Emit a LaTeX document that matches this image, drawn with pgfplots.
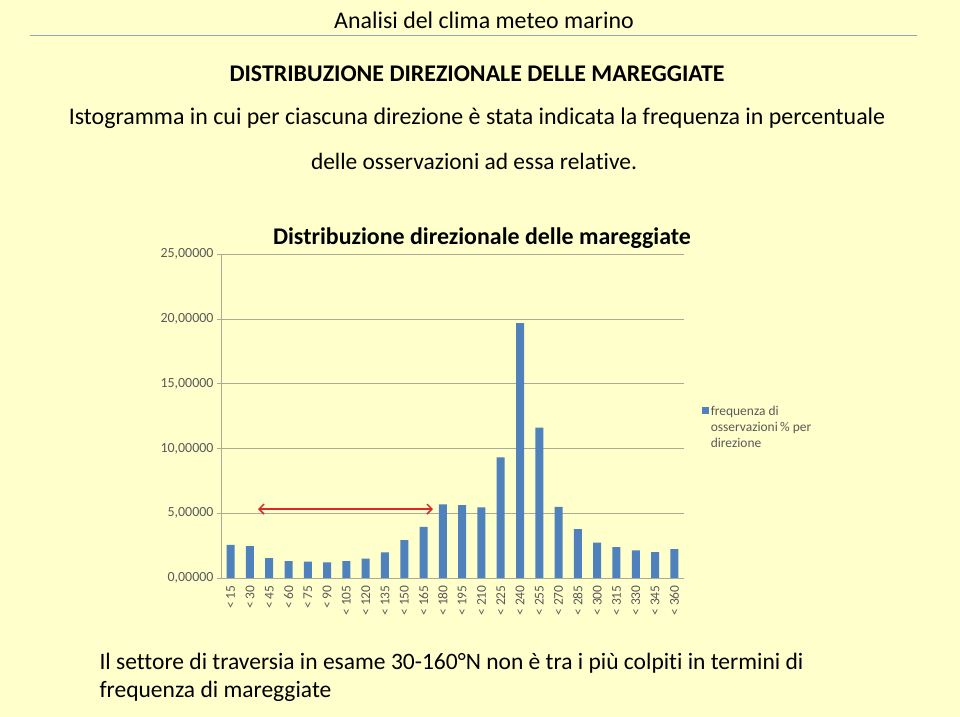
\documentclass[border=0pt]{standalone}
\usepackage{pgfplots}
\pgfplotsset{compat=1.18}
\usepackage{fontspec}
\setmainfont{Carlito}[Ligatures=NoCommon]
\usetikzlibrary{arrows.meta}
\definecolor{bg}{RGB}{255,255,204}
\definecolor{barblue}{RGB}{79,129,189}
\definecolor{gridc}{RGB}{170,170,150}
\definecolor{ticktxt}{RGB}{89,89,89}
\definecolor{hdrline}{RGB}{141,164,186}
\definecolor{arrowred}{RGB}{220,40,40}
\newcommand{\fs}[1]{\fontsize{#1}{1.2\dimexpr #1pt\relax}\selectfont}
\begin{document}
\begin{tikzpicture}[x=1bp,y=1bp]
\fill[bg] (0,0) rectangle (960,717);
% slide text
\node[font=\fs{24}] at (484,697) {Analisi del clima meteo marino};
\draw[hdrline, line width=1bp] (30,681) -- (917,681);
\node[font=\fs{24}\bfseries] at (477,643) {DISTRIBUZIONE DIREZIONALE DELLE MAREGGIATE};
\node[font=\fs{24}] at (477,599) {Istogramma in cui per ciascuna direzione è stata indicata la frequenza in percentuale};
\node[font=\fs{23.5}] at (474,556) {delle osservazioni ad essa relative.};
\node[font=\fs{24}\bfseries] at (482,479) {Distribuzione direzionale delle mareggiate};
\node[font=\fs{23.6}, anchor=west] at (96,54) {Il settore di traversia in esame 30-160°N non è tra i più colpiti in termini di};
\node[font=\fs{23.6}, anchor=west] at (96,26) {frequenza di mareggiate};
\begin{axis}[
  at={(221bp,139bp)}, anchor=south west,
  width=463bp, height=324bp, scale only axis,
  xmin=-0.5, xmax=23.5, ymin=0, ymax=25,
  axis x line*=bottom, axis y line*=left,
  axis line style={gridc, -},
  ybar, bar width=8bp,
  xtick={0,...,23},
  xticklabels={< 15,< 30,< 45,< 60,< 75,< 90,< 105,< 120,< 135,< 150,< 165,< 180,< 195,< 210,< 225,< 240,< 255,< 270,< 285,< 300,< 315,< 330,< 345,< 360},
  x tick label style={rotate=90, anchor=east, font=\fs{13.5}, text=ticktxt},
  x tick style={draw=none},
  minor xtick={-0.5,0.5,...,23.5},
  minor x tick style={gridc},
  ytick={0,5,...,25},
  y tick style={gridc},
  tick align=outside,
  major tick length=4bp, minor tick length=4bp,
  ymajorgrids, grid style={gridc},
  y tick label style={font=\fs{14}, text=ticktxt,
    /pgf/number format/.cd, fixed, fixed zerofill, precision=5, use comma, assume math mode=true},
  scaled y ticks=false,
  legend style={at={(1.038,0.538)}, anchor=north west, draw=none, fill=none,
    font=\fs{13.5}, text=ticktxt, inner sep=0pt, nodes={align=left, inner xsep=2bp}},
  legend image code/.code={\fill[#1] (0bp,13.5bp) rectangle (7bp,20.5bp);},
  clip=false,
]
\addplot[fill=barblue, draw=none] coordinates {
(0,2.56) (1,2.46) (2,1.54) (3,1.31) (4,1.26) (5,1.21) (6,1.31) (7,1.49)
(8,1.97) (9,2.92) (10,3.95) (11,5.69) (12,5.62) (13,5.44) (14,9.31) (15,19.67)
(16,11.61) (17,5.49) (18,3.77) (19,2.72) (20,2.38) (21,2.13) (22,2.00) (23,2.23)};
\addlegendentry{frequenza di\\osservazioni\,\% per\\direzione}
\draw[arrowred, line width=1.5bp, {Straight Barb[length=5bp,width=10bp]}-{Straight Barb[length=5bp,width=10bp]}]
  (axis cs:1.42,5.32) -- (axis cs:10.49,5.32);
\end{axis}
\end{tikzpicture}
\end{document}
